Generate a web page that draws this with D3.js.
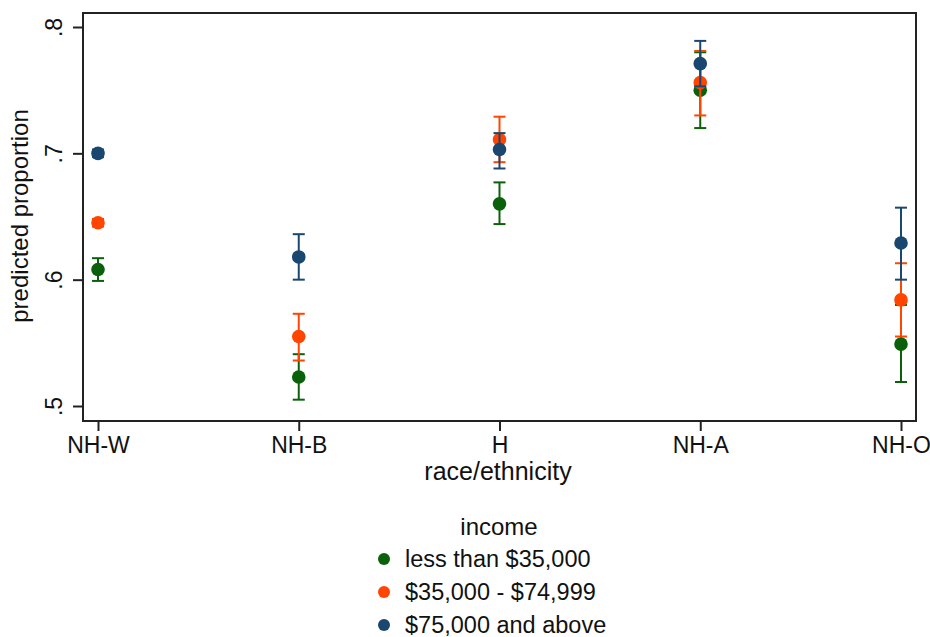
<!DOCTYPE html>
<html><head><meta charset="utf-8">
<script src="https://cdn.jsdelivr.net/npm/d3@7"></script>
<style>body{margin:0;background:#fff}svg{display:block}text{font-family:"Liberation Sans",Arial,sans-serif;fill:#111}</style>
</head><body><svg id="c" width="930" height="637"></svg>
<script>
const categories = ["NH-W","NH-B","H","NH-A","NH-O"];
const seriesNames = ["less than $35,000","$35,000 - $74,999","$75,000 and above"];
const seriesColors = ["#0b610b","#ff4500","#1a476f"];
const est  = [[0.608,0.523,0.660,0.750,0.549],[0.645,0.555,0.711,0.756,0.584],[0.700,0.618,0.703,0.771,0.629]];
const lower= [[0.599,0.505,0.644,0.720,0.519],[0.642,0.536,0.693,0.730,0.555],[0.697,0.600,0.688,0.753,0.600]];
const upper= [[0.617,0.541,0.677,0.780,0.580],[0.648,0.573,0.729,0.781,0.613],[0.703,0.636,0.716,0.789,0.657]];
const yTicks = [0.5,0.6,0.7,0.8];
const yTickLabels = [".5",".6",".7",".8"];

const svg = d3.select("#c");
const x = d3.scalePoint().domain(categories).range([98,901]);
const y = d3.scaleLinear().domain([0.5,0.8]).range([406,27]);
const box = {l:83,t:13,r:916,b:421};

svg.append("rect").attr("x",box.l).attr("y",box.t).attr("width",box.r-box.l).attr("height",box.b-box.t)
  .attr("fill","none").attr("stroke","#222").attr("stroke-width",2);

// y axis
const ya = svg.append("g").attr("transform",`translate(${box.l},0)`)
  .call(d3.axisLeft(y).tickValues(yTicks).tickFormat((d,i)=>yTickLabels[i]).tickSize(10).tickPadding(0));
ya.select(".domain").remove();
ya.selectAll("line").attr("stroke","#222").attr("stroke-width",2);
ya.selectAll("text").attr("font-size",23).attr("fill","#111")
  .attr("transform","translate(-21,0) rotate(-90)").attr("text-anchor","middle").attr("x",0).attr("dy",0).attr("y",0);

// x axis
const xa = svg.append("g").attr("transform",`translate(0,${box.b})`)
  .call(d3.axisBottom(x).tickSize(10).tickPadding(6));
xa.select(".domain").remove();
xa.selectAll("line").attr("stroke","#222").attr("stroke-width",2);
xa.selectAll("text").attr("font-size",23).attr("fill","#111").attr("dy","0.71em");

svg.append("text").attr("x",498).attr("y",480).attr("text-anchor","middle").attr("font-size",25).text("race/ethnicity");
svg.append("text").attr("transform","translate(28,216) rotate(-90)").attr("text-anchor","middle").attr("font-size",24).text("predicted proportion");

// marks
const cap = 6;
seriesNames.forEach((s,si)=>{
  const g = svg.append("g");
  categories.forEach((c,ci)=>{
    const cx = x(c);
    g.append("line").attr("x1",cx).attr("x2",cx).attr("y1",y(lower[si][ci])).attr("y2",y(upper[si][ci]))
      .attr("stroke",seriesColors[si]).attr("stroke-width",2);
    [lower[si][ci],upper[si][ci]].forEach(v=>{
      g.append("line").attr("x1",cx-cap).attr("x2",cx+cap).attr("y1",y(v)).attr("y2",y(v))
        .attr("stroke",seriesColors[si]).attr("stroke-width",2);
    });
  });
  g.selectAll("circle").data(est[si]).join("circle")
    .attr("cx",(d,i)=>x(categories[i])).attr("cy",d=>y(d)).attr("r",6.8).attr("fill",seriesColors[si]);
});

// legend
svg.append("text").attr("x",499).attr("y",535).attr("text-anchor","middle").attr("font-size",24).text("income");
seriesNames.forEach((s,i)=>{
  const yy = 559 + i*33;
  svg.append("circle").attr("cx",384).attr("cy",yy).attr("r",6).attr("fill",seriesColors[i]);
  svg.append("text").attr("x",405).attr("y",yy+8).attr("font-size",23.5).text(s);
});
</script></body></html>
